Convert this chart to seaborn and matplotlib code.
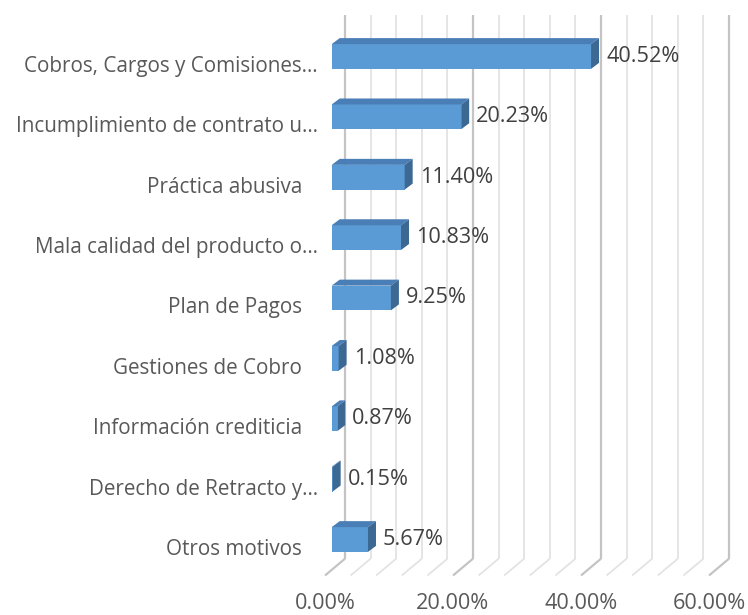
import numpy as np
import pandas as pd
import seaborn as sns
import matplotlib.pyplot as plt
import matplotlib.transforms as mtransforms
from matplotlib.patches import Polygon

# datos del grafico (porcentaje de reclamos por motivo)
categorias = [
    "Cobros, Cargos y Comisiones…",
    "Incumplimiento de contrato u…",
    "Práctica abusiva   ",
    "Mala calidad del producto o…",
    "Plan de Pagos   ",
    "Gestiones de Cobro   ",
    "Información crediticia   ",
    "Derecho de Retracto y…",
    "Otros motivos   ",
]
porcentajes = [40.52, 20.23, 11.40, 10.83, 9.25, 1.08, 0.87, 0.15, 5.67]
ticks_mayores = [0, 20, 40, 60]
ticks_menores = list(range(0, 61, 4))

plt.rcParams['font.family'] = ['Open Sans', 'DejaVu Sans']
FS_CAT = 14.9
FS_NUM = 15.6
AZUL = "#5B9BD5"
AZUL_TECHO = "#4A7EB6"
AZUL_LADO = "#3C6894"
GRIS_TXT = "#595959"

W, H = 748, 615
fig = plt.figure(figsize=(W / 100, H / 100), dpi=100)
# plano frontal de las barras, en pixeles de la imagen
izq, arriba, ancho, alto = 331.7, 26.3, 384.0, 543.4
ax = fig.add_axes([izq / W, (H - arriba - alto) / H, ancho / W, alto / H])

df = pd.DataFrame({"motivo": categorias, "pct": porcentajes})
sns.barplot(data=df, x="pct", y="motivo", orient="h", color=AZUL,
            saturation=1, width=0.41, linewidth=0, ax=ax, zorder=3)

n = len(categorias)
ax.set_xlim(0, 60)
ax.set_ylim(n - 0.5, -0.5)
ax.set_xlabel("")
ax.set_ylabel("")
for s in ax.spines.values():
    s.set_visible(False)

px_x = ancho / 60.0          # pixeles por punto porcentual
px_y = alto / n              # pixeles por categoria


def d(dx, dy):
    # desplazamiento en pixeles -> unidades de datos
    return dx / px_x, dy / px_y


# profundidad de las barras (efecto 3D)
bdx, bdy = d(8, -6)
for p in ax.patches:
    x0, y0, w, h = p.get_x(), p.get_y(), p.get_width(), p.get_height()
    techo = [(x0, y0), (x0 + w, y0), (x0 + w + bdx, y0 + bdy), (x0 + bdx, y0 + bdy)]
    lado = [(x0 + w, y0), (x0 + w, y0 + h), (x0 + w + bdx, y0 + h + bdy), (x0 + w + bdx, y0 + bdy)]
    ax.add_patch(Polygon(techo, closed=True, fc=AZUL_TECHO, ec="none", zorder=3))
    ax.add_patch(Polygon(lado, closed=True, fc=AZUL_LADO, ec="none", zorder=3))

# pared del fondo y piso
fdx, fdy = d(13.3, -11)
pdx, pdy = d(-6.7, 5.8)
for v in ticks_menores:
    mayor = v in ticks_mayores
    col = "#C4C4C4" if mayor else "#E3E3E3"
    lw = 1.6 if mayor else 1.3
    ax.plot([v + fdx, v + fdx], [-0.5 + fdy, n - 0.5 + fdy], color=col, lw=lw,
            zorder=1, clip_on=False, solid_capstyle="butt")
    ax.plot([v + fdx, v + pdx], [n - 0.5 + fdy, n - 0.5 + pdy], color=col, lw=lw,
            zorder=1, clip_on=False, solid_capstyle="butt")

# etiquetas del eje x
ax.set_xticks([])
for v in ticks_mayores:
    ax.text(v + pdx, n - 0.5 + 31.3 / px_y, f"{v:.2f}%", ha="center",
            va="center_baseline", fontsize=FS_NUM, color=GRIS_TXT, clip_on=False)

# etiquetas de categorias
ax.set_yticks(range(n))
ax.set_yticklabels(categorias, fontsize=FS_CAT, color=GRIS_TXT)
ax.tick_params(axis="y", length=0, pad=9.9)
desplaza = mtransforms.ScaledTranslation(0, -7.5 / 100, fig.dpi_scale_trans)
for lab in ax.get_yticklabels():
    lab.set_transform(lab.get_transform() + desplaza)

# etiquetas de valores
etiquetas = ax.bar_label(ax.containers[0], labels=[f"{v:.2f}%" for v in porcentajes],
                         padding=15 * 0.72, fontsize=FS_NUM, color="#404040")
baja = mtransforms.ScaledTranslation(0, -3.5 / 100, fig.dpi_scale_trans)
for t in etiquetas:
    t.set_transform(t.get_transform() + baja)

fig.savefig("out.png", dpi=100, facecolor="white")
